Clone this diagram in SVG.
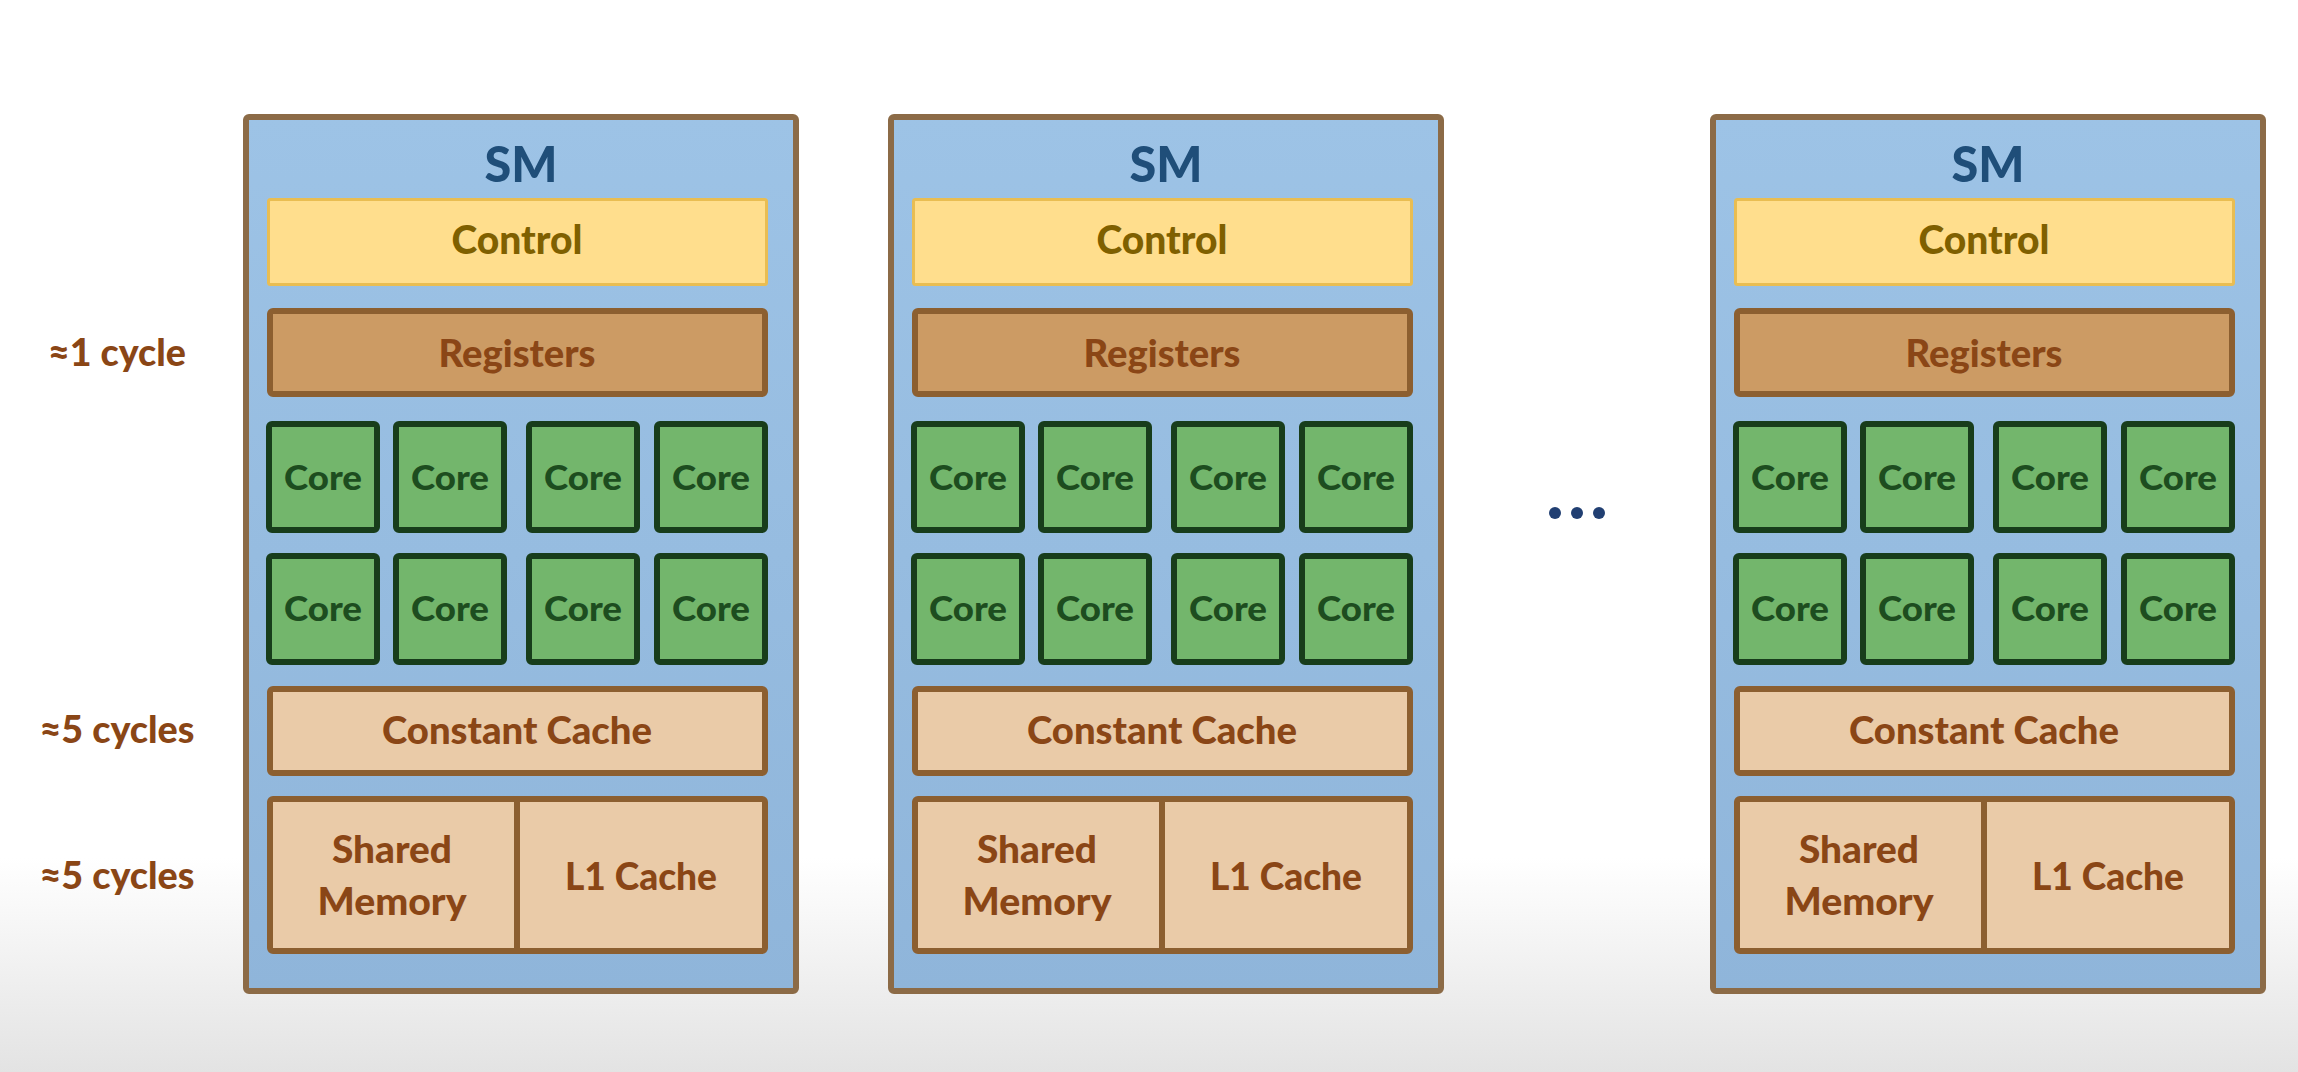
<svg xmlns="http://www.w3.org/2000/svg" width="2298" height="1072" viewBox="0 0 2298 1072">
<defs>
<linearGradient id="bg" x1="0" y1="0" x2="0" y2="1">
<stop offset="0" stop-color="#ffffff"/>
<stop offset="0.8" stop-color="#ffffff"/>
<stop offset="1" stop-color="#e3e3e3"/>
</linearGradient>
<linearGradient id="smFill" x1="0" y1="0" x2="0" y2="1">
<stop offset="0" stop-color="#9dc3e6"/>
<stop offset="1" stop-color="#8fb5da"/>
</linearGradient>
<style>
.sm{fill:url(#smFill);stroke:#8c6b47;stroke-width:6}
.ctrl{fill:#ffde8d;stroke:#e9bd52;stroke-width:3}
.reg{fill:#cc9b64;stroke:#8c5f30;stroke-width:6}
.core{fill:#73b66c;stroke:#183d1b;stroke-width:6}
.mem{fill:#eacba8;stroke:#8c5f30;stroke-width:6}
.div{stroke:#8c5f30;stroke-width:6}
text{font-family:Lato,"Open Sans","Liberation Sans",sans-serif;font-weight:900;text-anchor:middle}
.tsm{fill:#1f4e79;font-size:50px}
.tctrl{fill:#7f6000;font-size:39px}
.tbr{fill:#8a4616;font-size:37px}
.tcore{fill:#1d4d1f;font-size:35px}
.tlat{fill:#8a4616;font-size:37px}
.dot{fill:#213f72}
</style>
</defs>
<rect x="0" y="0" width="2298" height="1072" fill="url(#bg)"/>

<g id="latency-labels">
<text id="lat-registers" class="tlat" x="117" y="366" textLength="138" lengthAdjust="spacingAndGlyphs">≈1 cycle</text>
<text id="lat-constant" class="tlat" x="117" y="743" textLength="155" lengthAdjust="spacingAndGlyphs">≈5 cycles</text>
<text id="lat-shared" class="tlat" x="117" y="889" textLength="155" lengthAdjust="spacingAndGlyphs">≈5 cycles</text>
</g>

<g id="sm1">
<rect class="sm" x="246" y="117" width="550" height="874" rx="3"/>
<text class="tsm" x="521" y="182" textLength="73" lengthAdjust="spacingAndGlyphs">SM</text>
<g id="sm1-control"><rect class="ctrl" x="268.5" y="199.5" width="498" height="85" rx="2"/><text class="tctrl" x="517" y="254" textLength="131" lengthAdjust="spacingAndGlyphs">Control</text></g>
<g id="sm1-registers"><rect class="reg" x="270" y="311" width="495" height="83" rx="3"/><text class="tbr" x="517" y="367" textLength="157" lengthAdjust="spacingAndGlyphs">Registers</text></g>
<g id="sm1-core1"><rect class="core" x="269" y="424" width="108" height="106" rx="3"/><text class="tcore" x="323" y="490" textLength="78" lengthAdjust="spacingAndGlyphs">Core</text></g>
<g id="sm1-core2"><rect class="core" x="396" y="424" width="108" height="106" rx="3"/><text class="tcore" x="450" y="490" textLength="78" lengthAdjust="spacingAndGlyphs">Core</text></g>
<g id="sm1-core3"><rect class="core" x="529" y="424" width="108" height="106" rx="3"/><text class="tcore" x="583" y="490" textLength="78" lengthAdjust="spacingAndGlyphs">Core</text></g>
<g id="sm1-core4"><rect class="core" x="657" y="424" width="108" height="106" rx="3"/><text class="tcore" x="711" y="490" textLength="78" lengthAdjust="spacingAndGlyphs">Core</text></g>
<g id="sm1-core5"><rect class="core" x="269" y="556" width="108" height="106" rx="3"/><text class="tcore" x="323" y="621" textLength="78" lengthAdjust="spacingAndGlyphs">Core</text></g>
<g id="sm1-core6"><rect class="core" x="396" y="556" width="108" height="106" rx="3"/><text class="tcore" x="450" y="621" textLength="78" lengthAdjust="spacingAndGlyphs">Core</text></g>
<g id="sm1-core7"><rect class="core" x="529" y="556" width="108" height="106" rx="3"/><text class="tcore" x="583" y="621" textLength="78" lengthAdjust="spacingAndGlyphs">Core</text></g>
<g id="sm1-core8"><rect class="core" x="657" y="556" width="108" height="106" rx="3"/><text class="tcore" x="711" y="621" textLength="78" lengthAdjust="spacingAndGlyphs">Core</text></g>
<g id="sm1-constant-cache"><rect class="mem" x="270" y="689" width="495" height="84" rx="3"/><text class="tbr" x="517" y="744" textLength="270" lengthAdjust="spacingAndGlyphs">Constant Cache</text></g>
<g id="sm1-shared-l1">
<rect class="mem" x="270" y="799" width="495" height="152" rx="3"/>
<line class="div" x1="517" y1="799" x2="517" y2="951"/>
<g id="sm1-shared-memory"><text class="tbr" x="392" y="863" textLength="120" lengthAdjust="spacingAndGlyphs">Shared</text><text class="tbr" x="392" y="915" textLength="149" lengthAdjust="spacingAndGlyphs">Memory</text></g>
<g id="sm1-l1-cache"><text class="tbr" x="641" y="890" textLength="152" lengthAdjust="spacingAndGlyphs">L1 Cache</text></g>
</g>
</g>

<g id="sm2" transform="translate(645,0)">
<rect class="sm" x="246" y="117" width="550" height="874" rx="3"/>
<text class="tsm" x="521" y="182" textLength="73" lengthAdjust="spacingAndGlyphs">SM</text>
<g id="sm2-control"><rect class="ctrl" x="268.5" y="199.5" width="498" height="85" rx="2"/><text class="tctrl" x="517" y="254" textLength="131" lengthAdjust="spacingAndGlyphs">Control</text></g>
<g id="sm2-registers"><rect class="reg" x="270" y="311" width="495" height="83" rx="3"/><text class="tbr" x="517" y="367" textLength="157" lengthAdjust="spacingAndGlyphs">Registers</text></g>
<g id="sm2-core1"><rect class="core" x="269" y="424" width="108" height="106" rx="3"/><text class="tcore" x="323" y="490" textLength="78" lengthAdjust="spacingAndGlyphs">Core</text></g>
<g id="sm2-core2"><rect class="core" x="396" y="424" width="108" height="106" rx="3"/><text class="tcore" x="450" y="490" textLength="78" lengthAdjust="spacingAndGlyphs">Core</text></g>
<g id="sm2-core3"><rect class="core" x="529" y="424" width="108" height="106" rx="3"/><text class="tcore" x="583" y="490" textLength="78" lengthAdjust="spacingAndGlyphs">Core</text></g>
<g id="sm2-core4"><rect class="core" x="657" y="424" width="108" height="106" rx="3"/><text class="tcore" x="711" y="490" textLength="78" lengthAdjust="spacingAndGlyphs">Core</text></g>
<g id="sm2-core5"><rect class="core" x="269" y="556" width="108" height="106" rx="3"/><text class="tcore" x="323" y="621" textLength="78" lengthAdjust="spacingAndGlyphs">Core</text></g>
<g id="sm2-core6"><rect class="core" x="396" y="556" width="108" height="106" rx="3"/><text class="tcore" x="450" y="621" textLength="78" lengthAdjust="spacingAndGlyphs">Core</text></g>
<g id="sm2-core7"><rect class="core" x="529" y="556" width="108" height="106" rx="3"/><text class="tcore" x="583" y="621" textLength="78" lengthAdjust="spacingAndGlyphs">Core</text></g>
<g id="sm2-core8"><rect class="core" x="657" y="556" width="108" height="106" rx="3"/><text class="tcore" x="711" y="621" textLength="78" lengthAdjust="spacingAndGlyphs">Core</text></g>
<g id="sm2-constant-cache"><rect class="mem" x="270" y="689" width="495" height="84" rx="3"/><text class="tbr" x="517" y="744" textLength="270" lengthAdjust="spacingAndGlyphs">Constant Cache</text></g>
<g id="sm2-shared-l1">
<rect class="mem" x="270" y="799" width="495" height="152" rx="3"/>
<line class="div" x1="517" y1="799" x2="517" y2="951"/>
<g id="sm2-shared-memory"><text class="tbr" x="392" y="863" textLength="120" lengthAdjust="spacingAndGlyphs">Shared</text><text class="tbr" x="392" y="915" textLength="149" lengthAdjust="spacingAndGlyphs">Memory</text></g>
<g id="sm2-l1-cache"><text class="tbr" x="641" y="890" textLength="152" lengthAdjust="spacingAndGlyphs">L1 Cache</text></g>
</g>
</g>

<g id="ellipsis">
<circle class="dot" cx="1555" cy="513" r="6"/>
<circle class="dot" cx="1577" cy="513" r="6"/>
<circle class="dot" cx="1599" cy="513" r="6"/>
</g>

<g id="sm3" transform="translate(1467,0)">
<rect class="sm" x="246" y="117" width="550" height="874" rx="3"/>
<text class="tsm" x="521" y="182" textLength="73" lengthAdjust="spacingAndGlyphs">SM</text>
<g id="sm3-control"><rect class="ctrl" x="268.5" y="199.5" width="498" height="85" rx="2"/><text class="tctrl" x="517" y="254" textLength="131" lengthAdjust="spacingAndGlyphs">Control</text></g>
<g id="sm3-registers"><rect class="reg" x="270" y="311" width="495" height="83" rx="3"/><text class="tbr" x="517" y="367" textLength="157" lengthAdjust="spacingAndGlyphs">Registers</text></g>
<g id="sm3-core1"><rect class="core" x="269" y="424" width="108" height="106" rx="3"/><text class="tcore" x="323" y="490" textLength="78" lengthAdjust="spacingAndGlyphs">Core</text></g>
<g id="sm3-core2"><rect class="core" x="396" y="424" width="108" height="106" rx="3"/><text class="tcore" x="450" y="490" textLength="78" lengthAdjust="spacingAndGlyphs">Core</text></g>
<g id="sm3-core3"><rect class="core" x="529" y="424" width="108" height="106" rx="3"/><text class="tcore" x="583" y="490" textLength="78" lengthAdjust="spacingAndGlyphs">Core</text></g>
<g id="sm3-core4"><rect class="core" x="657" y="424" width="108" height="106" rx="3"/><text class="tcore" x="711" y="490" textLength="78" lengthAdjust="spacingAndGlyphs">Core</text></g>
<g id="sm3-core5"><rect class="core" x="269" y="556" width="108" height="106" rx="3"/><text class="tcore" x="323" y="621" textLength="78" lengthAdjust="spacingAndGlyphs">Core</text></g>
<g id="sm3-core6"><rect class="core" x="396" y="556" width="108" height="106" rx="3"/><text class="tcore" x="450" y="621" textLength="78" lengthAdjust="spacingAndGlyphs">Core</text></g>
<g id="sm3-core7"><rect class="core" x="529" y="556" width="108" height="106" rx="3"/><text class="tcore" x="583" y="621" textLength="78" lengthAdjust="spacingAndGlyphs">Core</text></g>
<g id="sm3-core8"><rect class="core" x="657" y="556" width="108" height="106" rx="3"/><text class="tcore" x="711" y="621" textLength="78" lengthAdjust="spacingAndGlyphs">Core</text></g>
<g id="sm3-constant-cache"><rect class="mem" x="270" y="689" width="495" height="84" rx="3"/><text class="tbr" x="517" y="744" textLength="270" lengthAdjust="spacingAndGlyphs">Constant Cache</text></g>
<g id="sm3-shared-l1">
<rect class="mem" x="270" y="799" width="495" height="152" rx="3"/>
<line class="div" x1="517" y1="799" x2="517" y2="951"/>
<g id="sm3-shared-memory"><text class="tbr" x="392" y="863" textLength="120" lengthAdjust="spacingAndGlyphs">Shared</text><text class="tbr" x="392" y="915" textLength="149" lengthAdjust="spacingAndGlyphs">Memory</text></g>
<g id="sm3-l1-cache"><text class="tbr" x="641" y="890" textLength="152" lengthAdjust="spacingAndGlyphs">L1 Cache</text></g>
</g>
</g>
</svg>
